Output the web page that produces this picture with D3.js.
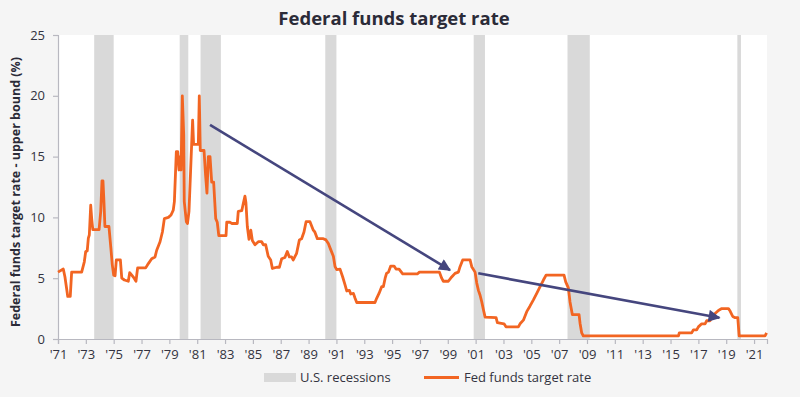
<!DOCTYPE html>
<html><head><meta charset="utf-8">
<script src="https://cdn.jsdelivr.net/npm/d3@7"></script>
<style>
html,body{margin:0;padding:0;background:#f5f5f5;}
svg{display:block;font-family:"Open Sans",sans-serif;}
</style></head>
<body>
<svg id="chart" width="800" height="397"></svg>
<script>
// ---- data ----
const rateYears = [1971.0,1971.38,1971.5,1971.7,1971.88,1971.98,1972.7,1972.89,1972.99,1973.1,1973.18,1973.25,1973.35,1973.42,1973.5,1973.95,1974.07,1974.16,1974.23,1974.3,1974.37,1974.66,1974.8,1974.9,1975.0,1975.1,1975.19,1975.48,1975.58,1975.77,1976.05,1976.15,1976.3,1976.44,1976.6,1976.72,1977.3,1977.49,1977.73,1977.97,1978.09,1978.33,1978.5,1978.64,1978.93,1979.12,1979.28,1979.36,1979.5,1979.6,1979.69,1979.79,1979.84,1979.93,1980.03,1980.07,1980.22,1980.3,1980.41,1980.6,1980.67,1980.74,1981.08,1981.15,1981.22,1981.49,1981.6,1981.7,1981.8,1981.92,1982.04,1982.18,1982.33,1982.44,1982.55,1982.76,1983.07,1983.12,1983.36,1983.48,1983.88,1983.95,1984.2,1984.31,1984.43,1984.5,1984.6,1984.72,1984.85,1984.96,1985.15,1985.39,1985.63,1985.75,1985.92,1986.1,1986.28,1986.4,1986.71,1986.9,1987.07,1987.3,1987.47,1987.62,1987.78,1987.9,1988.14,1988.34,1988.5,1988.67,1988.82,1989.1,1989.34,1989.45,1989.63,1990.06,1990.25,1990.42,1990.59,1990.78,1990.9,1991.02,1991.26,1991.45,1991.62,1991.74,1991.93,1992.03,1992.22,1992.34,1992.46,1993.77,1993.89,1994.06,1994.25,1994.37,1994.5,1994.6,1994.74,1994.9,1995.14,1995.28,1995.5,1995.76,1996.81,1996.96,1998.4,1998.56,1998.68,1999.04,1999.28,1999.52,1999.76,1999.88,2000.07,2000.6,2000.72,2000.96,2001.08,2001.2,2001.32,2001.44,2001.56,2001.68,2002.47,2002.56,2003.04,2003.18,2004.07,2004.19,2004.43,2004.67,2004.9,2005.14,2005.39,2005.63,2005.87,2006.06,2007.35,2007.47,2007.66,2007.78,2007.95,2008.43,2008.5,2008.62,2008.74,2015.57,2015.63,2016.52,2016.64,2016.88,2017.0,2017.24,2017.48,2017.6,2017.84,2017.96,2018.2,2018.44,2018.68,2019.16,2019.28,2019.47,2019.64,2019.83,2019.93,2021.79,2021.9];
const rateValues = [5.5,5.75,5.1,3.5,3.5,5.5,5.5,6.35,7.2,7.25,8.3,8.55,11.0,9.9,9.0,9.0,10.5,13.0,13.0,11.3,9.25,9.25,7.45,6.1,5.25,5.2,6.5,6.5,5.0,4.85,4.75,5.45,5.25,5.05,4.75,5.85,5.85,6.2,6.6,6.75,7.3,8.0,8.8,9.9,10.0,10.2,10.6,11.3,15.4,15.4,13.9,15.0,13.9,20.0,16.8,11.3,9.65,9.5,10.5,16.0,18.0,16.0,16.0,20.0,15.5,15.5,13.5,12.0,15.0,15.0,12.9,12.9,9.9,9.6,8.5,8.5,8.5,9.6,9.6,9.5,9.5,10.5,10.55,11.15,11.75,11.2,9.25,8.2,8.95,8.1,7.75,8.0,8.0,7.75,7.75,6.8,6.5,5.8,5.9,5.9,6.6,6.7,7.2,6.75,6.75,6.5,7.05,8.15,8.25,8.8,9.65,9.65,8.95,8.8,8.25,8.25,8.15,7.85,7.35,6.8,5.95,5.7,5.75,5.1,4.45,3.95,4.0,3.7,3.75,3.35,3.0,3.0,3.35,3.75,4.3,4.3,5.0,5.4,5.5,6.0,6.0,5.75,5.75,5.35,5.35,5.5,5.5,5.0,4.75,4.75,5.1,5.4,5.5,5.95,6.5,6.5,5.95,5.5,4.6,4.0,3.6,3.05,2.4,1.8,1.75,1.35,1.25,1.0,1.0,1.25,1.55,2.25,2.7,3.2,3.75,4.3,4.85,5.25,5.25,4.7,4.2,3.05,2.0,2.0,1.3,0.5,0.25,0.25,0.5,0.5,0.75,0.75,1.0,1.25,1.25,1.5,1.5,1.8,2.1,2.35,2.5,2.5,2.3,1.85,1.75,1.75,0.25,0.25,0.5];
const recessionStarts = [1973.6, 1979.74, 1981.24, 1990.2, 2000.86, 2007.6, 2019.8];
const recessionEnds   = [1975.0, 1980.36, 1982.7, 1991.0, 2001.67, 2009.2, 2020.06];
const tickYears = [1971,1973,1975,1977,1979,1981,1983,1985,1987,1989,1991,1993,1995,1997,1999,2001,2003,2005,2007,2009,2011,2013,2015,2017,2019,2021];
const yTicks = [0,5,10,15,20,25];
const arrowFrom = [[1981.92, 17.6], [2001.19, 5.4]];
const arrowTo   = [[1999.16, 5.67], [2018.51, 1.75]];
const titleText = "Federal funds target rate";
const yLabelText = "Federal funds target rate - upper bound (%)";
const legendLabels = ["U.S. recessions", "Fed funds target rate"];

// ---- layout ----
const svg = d3.select("#chart");
const W = 800, H = 397;
const plot = {left: 58, right: 767, top: 35, bottom: 339};
const ORANGE = "#f26522", GRAY = "#d9d9d9", NAVY = "#45467e", TXT = "#333340";

const x = d3.scaleLinear().domain([1971, 2021.93]).range([plot.left, plot.right]);
const y = d3.scaleLinear().domain([0, 25]).range([plot.bottom, plot.top]);

svg.append("rect").attr("width", W).attr("height", H).attr("fill", "#f5f5f5");
svg.append("rect").attr("x", plot.left).attr("y", plot.top)
  .attr("width", plot.right - plot.left).attr("height", plot.bottom - plot.top).attr("fill", "#ffffff");

// recessions
svg.append("g").selectAll("rect").data(recessionStarts.map((s, i) => [s, recessionEnds[i]]))
  .join("rect")
  .attr("x", d => x(d[0])).attr("width", d => x(d[1]) - x(d[0]))
  .attr("y", plot.top).attr("height", plot.bottom - plot.top)
  .attr("fill", GRAY);

// axes
const yAxis = svg.append("g").attr("transform", `translate(${plot.left},0)`)
  .call(d3.axisLeft(y).tickValues(yTicks).tickSize(5).tickPadding(8));
const xAxis = svg.append("g").attr("transform", `translate(0,${plot.bottom})`)
  .call(d3.axisBottom(x).tickValues(tickYears).tickSize(5).tickPadding(6)
    .tickFormat(d => "'" + String(d).slice(2)));
[yAxis, xAxis].forEach(a => {
  a.selectAll(".domain").attr("stroke", "#b8b8c0").attr("stroke-width", 1.2);
  a.selectAll(".tick line").attr("stroke", "#b8b8c0").attr("stroke-width", 1.2);
  a.selectAll(".tick text").attr("fill", TXT).attr("font-size", 13)
    .attr("font-family", "'Open Sans', sans-serif");
});

// line
const pts = rateYears.map((yr, i) => [yr, rateValues[i]]);
svg.append("path").datum(pts)
  .attr("fill", "none").attr("stroke", ORANGE).attr("stroke-width", 2.8)
  .attr("stroke-linejoin", "round")
  .attr("d", d3.line().x(d => x(d[0])).y(d => y(d[1])));

// arrows
svg.append("defs").append("marker")
  .attr("id", "ah").attr("viewBox", "0 0 10 10").attr("refX", 9).attr("refY", 5)
  .attr("markerUnits", "userSpaceOnUse").attr("markerWidth", 16).attr("markerHeight", 12)
  .attr("orient", "auto")
  .append("path").attr("d", "M0,0 L10,5 L0,10 Z").attr("fill", NAVY);
svg.append("g").selectAll("line").data(arrowFrom.map((f, i) => [f, arrowTo[i]]))
  .join("line")
  .attr("x1", d => x(d[0][0])).attr("y1", d => y(d[0][1]))
  .attr("x2", d => x(d[1][0])).attr("y2", d => y(d[1][1]))
  .attr("stroke", NAVY).attr("stroke-width", 2.6)
  .attr("marker-end", "url(#ah)");

// title
svg.append("text").attr("x", 394).attr("y", 25).attr("text-anchor", "middle")
  .attr("font-size", 18.5).attr("font-weight", 700).attr("fill", "#2b2b38")
  .text(titleText);

// y label
svg.append("text").attr("transform", `translate(20,${(plot.top + plot.bottom) / 2 + 5}) rotate(-90)`)
  .attr("text-anchor", "middle").attr("font-size", 12.5).attr("font-weight", 700)
  .attr("fill", "#2b2b38").text(yLabelText);

// legend
const lg = svg.append("g");
lg.append("rect").attr("x", 264).attr("y", 373).attr("width", 32).attr("height", 9).attr("fill", GRAY);
lg.append("text").attr("x", 300).attr("y", 382).attr("font-size", 13).attr("fill", TXT).text(legendLabels[0]);
lg.append("line").attr("x1", 424).attr("x2", 459).attr("y1", 377.5).attr("y2", 377.5)
  .attr("stroke", ORANGE).attr("stroke-width", 3);
lg.append("text").attr("x", 464).attr("y", 382).attr("font-size", 13).attr("fill", TXT).text(legendLabels[1]);
</script>
</body></html>
